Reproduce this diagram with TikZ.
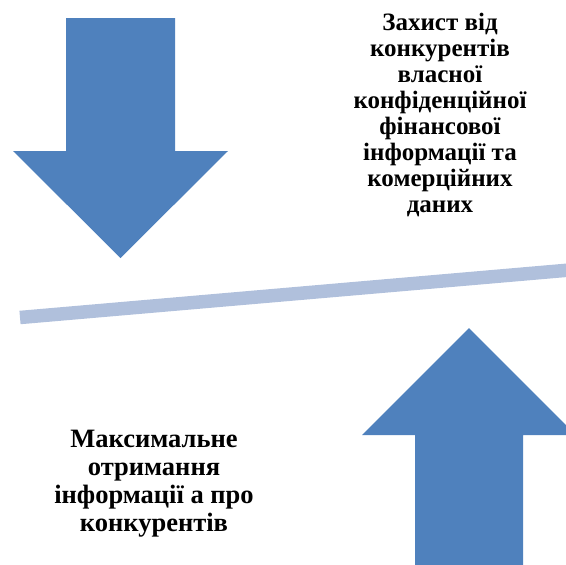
\documentclass[tikz,border=0pt]{standalone}
\usepackage{fontspec}
\setmainfont{Liberation Serif}
\definecolor{arrowblue}{RGB}{79,129,189}
\definecolor{barblue}{RGB}{176,192,220}
\tikzset{
  bigarrow/.style={fill=arrowblue},
  boldtext/.style={align=center, inner sep=0pt, font=\bfseries\fontsize{25}{26}\selectfont},
  bigboldtext/.style={boldtext, font=\bfseries\fontsize{26.5}{28}\selectfont}
}

\begin{document}
\begin{tikzpicture}[x=1pt,y=-1pt]
\clip (0,0) rectangle (566,565);

% arrow pressing down
\fill[bigarrow] (66,18) -- (175,18) -- (175,151) -- (228,151) -- (120.5,258) -- (13,151) -- (66,151) -- cycle;

% arrow pushing up
\fill[bigarrow] (415,570) -- (415,435) -- (362,435) -- (469,328) -- (576,435) -- (523,435) -- (523,570) -- cycle;

% the tilted bar
\draw[barblue, line width=13.5pt] (20,317.5) -- (570,270);

\node[boldtext] (protect) at (440,115) {Захист від\\конкурентів\\власної\\конфіденційної\\фінансової\\інформації та\\комерційних\\даних};
\node[bigboldtext] (gain) at (154,484) {Максимальне\\отримання\\інформації а про\\конкурентів};

\end{tikzpicture}
\end{document}
